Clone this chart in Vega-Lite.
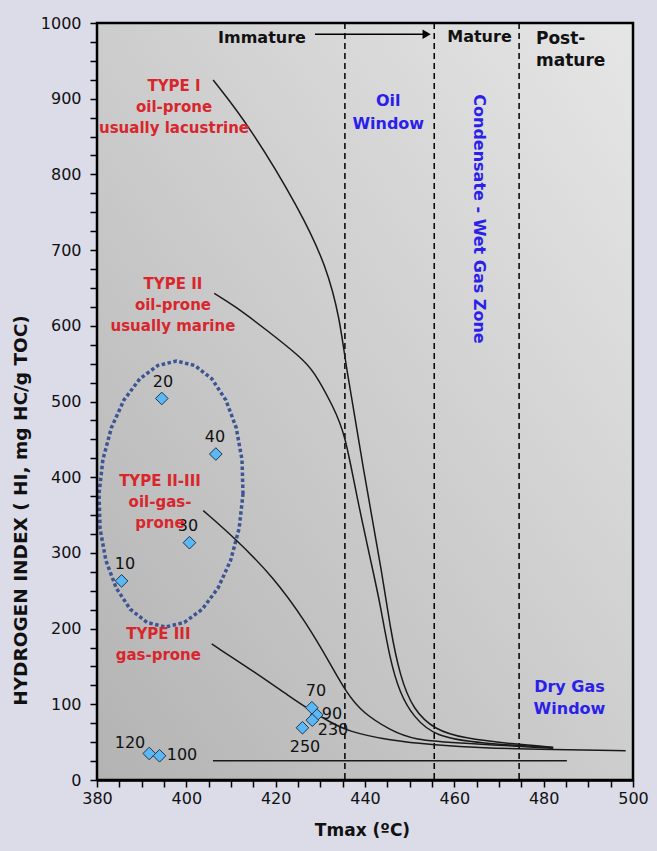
{
  "$schema": "https://vega.github.io/schema/vega-lite/v6.json",
  "width": 536,
  "height": 757,
  "autosize": {"type": "none"},
  "padding": {"left": 97, "top": 23, "right": 24, "bottom": 71},
  "background": "#dcdce9",
  "config": {"view": {"stroke": null}, "font": "DejaVu Sans"},
  "resolve": {"axis": {"x": "independent", "y": "independent"}},
  "datasets": {
    "curves": [
      {"s": "I", "Tmax": 406.0, "HI": 924.7},
      {"s": "I", "Tmax": 414.25, "HI": 863.0},
      {"s": "I", "Tmax": 425.45, "HI": 753.0},
      {"s": "I", "Tmax": 431.42, "HI": 678.1},
      {"s": "I", "Tmax": 434.4, "HI": 607.7},
      {"s": "I", "Tmax": 435.52, "HI": 554.8},
      {"s": "I", "Tmax": 439.66, "HI": 409.5},
      {"s": "I", "Tmax": 444.09, "HI": 264.2},
      {"s": "I", "Tmax": 445.59, "HI": 202.5},
      {"s": "I", "Tmax": 447.83, "HI": 136.5},
      {"s": "I", "Tmax": 450.81, "HI": 92.5},
      {"s": "I", "Tmax": 455.67, "HI": 66.1},
      {"s": "I", "Tmax": 462.0, "HI": 55.1},
      {"s": "I", "Tmax": 473.2, "HI": 47.6},
      {"s": "I", "Tmax": 482.15, "HI": 43.2},
      {"s": "II", "Tmax": 406.26, "HI": 642.9},
      {"s": "II", "Tmax": 410.51, "HI": 627.5},
      {"s": "II", "Tmax": 417.99, "HI": 594.5},
      {"s": "II", "Tmax": 425.45, "HI": 559.2},
      {"s": "II", "Tmax": 428.42, "HI": 541.6},
      {"s": "II", "Tmax": 432.9, "HI": 493.1},
      {"s": "II", "Tmax": 435.52, "HI": 458.0},
      {"s": "II", "Tmax": 438.14, "HI": 374.2},
      {"s": "II", "Tmax": 442.23, "HI": 264.2},
      {"s": "II", "Tmax": 443.35, "HI": 233.4},
      {"s": "II", "Tmax": 445.59, "HI": 158.5},
      {"s": "II", "Tmax": 447.83, "HI": 114.5},
      {"s": "II", "Tmax": 450.81, "HI": 83.6},
      {"s": "II", "Tmax": 455.67, "HI": 57.2},
      {"s": "II", "Tmax": 465.74, "HI": 48.5},
      {"s": "II", "Tmax": 482.08, "HI": 42.7},
      {"s": "II-III", "Tmax": 403.8, "HI": 355.8},
      {"s": "II-III", "Tmax": 410.51, "HI": 321.4},
      {"s": "II-III", "Tmax": 419.47, "HI": 268.6},
      {"s": "II-III", "Tmax": 426.94, "HI": 207.0},
      {"s": "II-III", "Tmax": 432.16, "HI": 154.2},
      {"s": "II-III", "Tmax": 435.9, "HI": 114.5},
      {"s": "II-III", "Tmax": 439.62, "HI": 88.1},
      {"s": "II-III", "Tmax": 445.59, "HI": 66.1},
      {"s": "II-III", "Tmax": 450.81, "HI": 52.8},
      {"s": "II-III", "Tmax": 462.0, "HI": 48.5},
      {"s": "II-III", "Tmax": 482.15, "HI": 41.9},
      {"s": "III", "Tmax": 405.68, "HI": 179.7},
      {"s": "III", "Tmax": 415.75, "HI": 140.9},
      {"s": "III", "Tmax": 423.21, "HI": 110.0},
      {"s": "III", "Tmax": 427.68, "HI": 92.5},
      {"s": "III", "Tmax": 432.16, "HI": 76.6},
      {"s": "III", "Tmax": 435.9, "HI": 64.7},
      {"s": "III", "Tmax": 445.59, "HI": 51.9},
      {"s": "III", "Tmax": 455.67, "HI": 46.2},
      {"s": "III", "Tmax": 465.74, "HI": 42.3},
      {"s": "III", "Tmax": 482.08, "HI": 40.3},
      {"s": "III", "Tmax": 498.36, "HI": 38.7},
      {"s": "base", "Tmax": 405.97, "HI": 25.5},
      {"s": "base", "Tmax": 485.2, "HI": 25.5}
    ],
    "ellipse": [
      {"o": 0, "Tmax": 412.69, "HI": 377.8},
      {"o": 1, "Tmax": 412.46, "HI": 423.3},
      {"o": 2, "Tmax": 411.15, "HI": 465.6},
      {"o": 3, "Tmax": 408.84, "HI": 502.0},
      {"o": 4, "Tmax": 405.7, "HI": 530.0},
      {"o": 5, "Tmax": 401.93, "HI": 547.5},
      {"o": 6, "Tmax": 397.8, "HI": 553.5},
      {"o": 7, "Tmax": 393.59, "HI": 547.5},
      {"o": 8, "Tmax": 389.58, "HI": 530.0},
      {"o": 9, "Tmax": 386.04, "HI": 502.0},
      {"o": 10, "Tmax": 383.23, "HI": 465.6},
      {"o": 11, "Tmax": 381.32, "HI": 423.3},
      {"o": 12, "Tmax": 380.45, "HI": 377.8},
      {"o": 13, "Tmax": 380.68, "HI": 332.3},
      {"o": 14, "Tmax": 381.99, "HI": 290.0},
      {"o": 15, "Tmax": 384.3, "HI": 253.6},
      {"o": 16, "Tmax": 387.44, "HI": 225.6},
      {"o": 17, "Tmax": 391.21, "HI": 208.1},
      {"o": 18, "Tmax": 395.34, "HI": 202.1},
      {"o": 19, "Tmax": 399.55, "HI": 208.1},
      {"o": 20, "Tmax": 403.56, "HI": 225.6},
      {"o": 21, "Tmax": 407.1, "HI": 253.6},
      {"o": 22, "Tmax": 409.91, "HI": 290.0},
      {"o": 23, "Tmax": 411.82, "HI": 332.3},
      {"o": 24, "Tmax": 412.69, "HI": 377.8}
    ],
    "samples": [
      {"label": "10", "Tmax": 385.5, "HI": 263},
      {"label": "20", "Tmax": 394.5, "HI": 504},
      {"label": "30", "Tmax": 400.7, "HI": 313.5},
      {"label": "40", "Tmax": 406.6, "HI": 430.6},
      {"label": "90", "Tmax": 429.2, "HI": 86},
      {"label": "70", "Tmax": 428.1, "HI": 95.5},
      {"label": "230", "Tmax": 428.2, "HI": 79},
      {"label": "250", "Tmax": 426.0, "HI": 69},
      {"label": "120", "Tmax": 391.7, "HI": 35},
      {"label": "100", "Tmax": 394.0, "HI": 32}
    ],
    "sampleLabels": [
      {"label": "10", "Tmax": 386.27, "HI": 285.3},
      {"label": "20", "Tmax": 394.78, "HI": 525.8},
      {"label": "30", "Tmax": 400.37, "HI": 335.5},
      {"label": "40", "Tmax": 406.42, "HI": 453.1},
      {"label": "70", "Tmax": 429.03, "HI": 117.6},
      {"label": "90", "Tmax": 432.61, "HI": 87.2},
      {"label": "230", "Tmax": 432.83, "HI": 66.1},
      {"label": "250", "Tmax": 426.56, "HI": 43.6},
      {"label": "120", "Tmax": 387.39, "HI": 48.9},
      {"label": "100", "Tmax": 399.03, "HI": 33.0}
    ],
    "zones": [{"Tmax": 435.5}, {"Tmax": 455.5}, {"Tmax": 474.5}],
    "arrow": [{"Tmax": 428.8, "Tmax2": 453, "HI": 985.1}],
    "arrowHead": [{"Tmax": 453.8, "HI": 985.1}],
    "redText": [
      {"text": "TYPE I", "Tmax": 397.24, "HI": 916.8},
      {"text": "oil-prone", "Tmax": 397.24, "HI": 889.0},
      {"text": "usually lacustrine", "Tmax": 397.24, "HI": 861.3},
      {"text": "TYPE II", "Tmax": 397.0, "HI": 655.2},
      {"text": "oil-prone", "Tmax": 397.0, "HI": 627.5},
      {"text": "usually marine", "Tmax": 397.0, "HI": 599.1},
      {"text": "TYPE II-III", "Tmax": 394.1, "HI": 395.0},
      {"text": "oil-gas-", "Tmax": 394.1, "HI": 367.2},
      {"text": "prone", "Tmax": 394.1, "HI": 339.5},
      {"text": "TYPE III", "Tmax": 393.73, "HI": 192.5},
      {"text": "gas-prone", "Tmax": 393.73, "HI": 165.1}
    ],
    "blueText": [
      {"text": "Oil", "Tmax": 445.21, "HI": 897.0},
      {"text": "Window", "Tmax": 445.21, "HI": 867.0},
      {"text": "Dry Gas", "Tmax": 485.78, "HI": 122.9},
      {"text": "Window", "Tmax": 485.78, "HI": 93.8}
    ],
    "blueVertical": [
      {"text": "Condensate - Wet Gas Zone", "Tmax": 465.55, "HI": 741.1}
    ],
    "blackCenter": [
      {"text": "Immature", "Tmax": 416.94, "HI": 980.5},
      {"text": "Mature", "Tmax": 465.63, "HI": 981.0}
    ],
    "blackLeft": [
      {"text": "Post-", "Tmax": 478.28, "HI": 979.0},
      {"text": "mature", "Tmax": 478.28, "HI": 950.0}
    ]
  },
  "layer": [
    {
      "data": {"values": [{}]},
      "mark": {
        "type": "rect",
        "fill": {
          "gradient": "linear",
          "x1": 0, "y1": 1, "x2": 1, "y2": 0,
          "stops": [
            {"offset": 0, "color": "#b3b3b3"},
            {"offset": 0.5, "color": "#cdcdcd"},
            {"offset": 1, "color": "#e6e6e6"}
          ]
        }
      },
      "encoding": {
        "x": {"datum": 380, "type": "quantitative", "scale": {"domain": [380, 500], "nice": false, "zero": false}, "axis": null},
        "x2": {"datum": 500},
        "y": {"datum": 0, "type": "quantitative", "scale": {"domain": [0, 1000], "nice": false, "zero": false}, "axis": null},
        "y2": {"datum": 1000}
      }
    },
    {
      "data": {"name": "zones"},
      "mark": {"type": "rule", "color": "#000", "strokeWidth": 1.5, "strokeDash": [6, 4]},
      "encoding": {
        "x": {"field": "Tmax", "type": "quantitative", "scale": {"domain": [380, 500], "nice": false, "zero": false}, "axis": null}
      }
    },
    {
      "data": {"name": "ellipse"},
      "mark": {"type": "line", "color": "#3d5592", "strokeWidth": 3.5, "strokeDash": [3.5, 2.5]},
      "encoding": {
        "x": {"field": "Tmax", "type": "quantitative", "scale": {"domain": [380, 500], "nice": false, "zero": false}, "axis": null},
        "y": {"field": "HI", "type": "quantitative", "scale": {"domain": [0, 1000], "nice": false, "zero": false}, "axis": null},
        "order": {"field": "o", "type": "quantitative"}
      }
    },
    {
      "data": {"name": "curves"},
      "mark": {"type": "line", "color": "#1a1a1a", "strokeWidth": 1.5, "interpolate": "basis"},
      "encoding": {
        "x": {
          "field": "Tmax", "type": "quantitative",
          "scale": {"domain": [380, 500], "nice": false, "zero": false},
          "axis": {
            "title": "Tmax (ºC)",
            "values": [380,385,390,395,400,405,410,415,420,425,430,435,440,445,450,455,460,465,470,475,480,485,490,495,500],
            "labelExpr": "datum.value % 20 === 0 ? datum.label : ''",
            "format": "d",
            "labelOverlap": false, "labelFlush": false,
            "grid": false,
            "domainColor": "#000", "domainWidth": 2.5,
            "tickColor": "#000", "tickWidth": 1.5, "tickSize": 7,
            "labelFont": "DejaVu Sans", "labelFontSize": 16, "labelColor": "#111", "labelPadding": 3,
            "titleFont": "DejaVu Sans", "titleFontSize": 17, "titleFontWeight": "bold", "titleColor": "#111",
            "titleX": 265, "titleY": 50, "titleBaseline": "middle", "titleAlign": "center"
          }
        },
        "y": {
          "field": "HI", "type": "quantitative",
          "scale": {"domain": [0, 1000], "nice": false, "zero": false},
          "axis": {
            "title": "HYDROGEN  INDEX ( HI, mg HC/g TOC)",
            "values": [0,25,50,75,100,125,150,175,200,225,250,275,300,325,350,375,400,425,450,475,500,525,550,575,600,625,650,675,700,725,750,775,800,825,850,875,900,925,950,975,1000],
            "labelExpr": "datum.value % 100 === 0 ? datum.label : ''",
            "format": "d",
            "labelOverlap": false, "labelFlush": false,
            "grid": false,
            "domainColor": "#000", "domainWidth": 2.5,
            "tickColor": "#000", "tickWidth": 1.5, "tickSize": 7,
            "labelFont": "DejaVu Sans", "labelFontSize": 16, "labelColor": "#111", "labelPadding": 9,
            "titleFont": "DejaVu Sans", "titleFontSize": 18.5, "titleFontWeight": "bold", "titleColor": "#111",
            "titleX": -77, "titleY": 487, "titleAngle": -90, "titleBaseline": "middle", "titleAlign": "center"
          }
        },
        "detail": {"field": "s", "type": "nominal"}
      }
    },
    {
      "data": {"name": "arrow"},
      "mark": {"type": "rule", "color": "#000", "strokeWidth": 1.5},
      "encoding": {
        "x": {"field": "Tmax", "type": "quantitative", "scale": {"domain": [380, 500], "nice": false, "zero": false}, "axis": null},
        "x2": {"field": "Tmax2"},
        "y": {"field": "HI", "type": "quantitative", "scale": {"domain": [0, 1000], "nice": false, "zero": false}, "axis": null}
      }
    },
    {
      "data": {"name": "arrowHead"},
      "mark": {"type": "point", "shape": "triangle-right", "filled": true, "color": "#000", "size": 90, "opacity": 1},
      "encoding": {
        "x": {"field": "Tmax", "type": "quantitative", "scale": {"domain": [380, 500], "nice": false, "zero": false}, "axis": null},
        "y": {"field": "HI", "type": "quantitative", "scale": {"domain": [0, 1000], "nice": false, "zero": false}, "axis": null}
      }
    },
    {
      "data": {"name": "samples"},
      "mark": {"type": "point", "shape": "diamond", "filled": true, "fill": "#5cb8f2", "stroke": "#1c3550", "strokeWidth": 1, "size": 160, "opacity": 1},
      "encoding": {
        "x": {"field": "Tmax", "type": "quantitative", "scale": {"domain": [380, 500], "nice": false, "zero": false}, "axis": null},
        "y": {"field": "HI", "type": "quantitative", "scale": {"domain": [0, 1000], "nice": false, "zero": false}, "axis": null}
      }
    },
    {
      "data": {"name": "sampleLabels"},
      "mark": {"type": "text", "font": "DejaVu Sans", "fontSize": 16, "color": "#111", "align": "center", "baseline": "middle"},
      "encoding": {
        "x": {"field": "Tmax", "type": "quantitative", "scale": {"domain": [380, 500], "nice": false, "zero": false}, "axis": null},
        "y": {"field": "HI", "type": "quantitative", "scale": {"domain": [0, 1000], "nice": false, "zero": false}, "axis": null},
        "text": {"field": "label"}
      }
    },
    {
      "data": {"name": "redText"},
      "mark": {"type": "text", "font": "DejaVu Sans", "fontSize": 15, "fontWeight": "bold", "color": "#d8262c", "align": "center", "baseline": "middle"},
      "encoding": {
        "x": {"field": "Tmax", "type": "quantitative", "scale": {"domain": [380, 500], "nice": false, "zero": false}, "axis": null},
        "y": {"field": "HI", "type": "quantitative", "scale": {"domain": [0, 1000], "nice": false, "zero": false}, "axis": null},
        "text": {"field": "text"}
      }
    },
    {
      "data": {"name": "blueText"},
      "mark": {"type": "text", "font": "DejaVu Sans", "fontSize": 16, "fontWeight": "bold", "color": "#2b1fea", "align": "center", "baseline": "middle"},
      "encoding": {
        "x": {"field": "Tmax", "type": "quantitative", "scale": {"domain": [380, 500], "nice": false, "zero": false}, "axis": null},
        "y": {"field": "HI", "type": "quantitative", "scale": {"domain": [0, 1000], "nice": false, "zero": false}, "axis": null},
        "text": {"field": "text"}
      }
    },
    {
      "data": {"name": "blueVertical"},
      "mark": {"type": "text", "font": "DejaVu Sans", "fontSize": 16, "fontWeight": "bold", "color": "#2b1fea", "align": "center", "baseline": "middle", "angle": 90},
      "encoding": {
        "x": {"field": "Tmax", "type": "quantitative", "scale": {"domain": [380, 500], "nice": false, "zero": false}, "axis": null},
        "y": {"field": "HI", "type": "quantitative", "scale": {"domain": [0, 1000], "nice": false, "zero": false}, "axis": null},
        "text": {"field": "text"}
      }
    },
    {
      "data": {"name": "blackCenter"},
      "mark": {"type": "text", "font": "DejaVu Sans", "fontSize": 16, "fontWeight": "bold", "color": "#111", "align": "center", "baseline": "middle"},
      "encoding": {
        "x": {"field": "Tmax", "type": "quantitative", "scale": {"domain": [380, 500], "nice": false, "zero": false}, "axis": null},
        "y": {"field": "HI", "type": "quantitative", "scale": {"domain": [0, 1000], "nice": false, "zero": false}, "axis": null},
        "text": {"field": "text"}
      }
    },
    {
      "data": {"name": "blackLeft"},
      "mark": {"type": "text", "font": "DejaVu Sans", "fontSize": 17, "fontWeight": "bold", "color": "#111", "align": "left", "baseline": "middle"},
      "encoding": {
        "x": {"field": "Tmax", "type": "quantitative", "scale": {"domain": [380, 500], "nice": false, "zero": false}, "axis": null},
        "y": {"field": "HI", "type": "quantitative", "scale": {"domain": [0, 1000], "nice": false, "zero": false}, "axis": null},
        "text": {"field": "text"}
      }
    },
    {
      "data": {"values": [{}]},
      "mark": {"type": "rect", "fill": null, "fillOpacity": 0, "stroke": "#000", "strokeWidth": 2.5},
      "encoding": {
        "x": {"datum": 380, "type": "quantitative", "scale": {"domain": [380, 500], "nice": false, "zero": false}, "axis": null},
        "x2": {"datum": 500},
        "y": {"datum": 0, "type": "quantitative", "scale": {"domain": [0, 1000], "nice": false, "zero": false}, "axis": null},
        "y2": {"datum": 1000}
      }
    }
  ]
}
